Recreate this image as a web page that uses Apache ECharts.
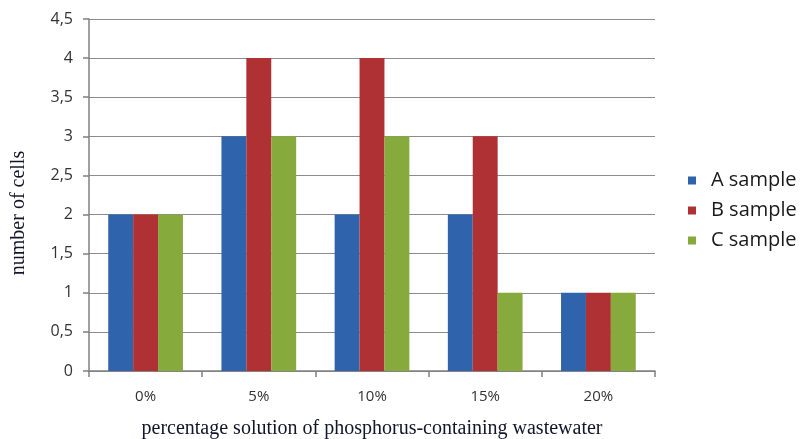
<!DOCTYPE html>
<html><head><meta charset="utf-8">
<script src="https://cdn.jsdelivr.net/npm/echarts@6/dist/echarts.min.js"></script>
<style>html,body{margin:0;padding:0;background:#fff;overflow:hidden}#c{width:802px;height:439px}</style>
</head><body><div id="c"></div>
<script>
const categories = ['0%', '5%', '10%', '15%', '20%'];
const seriesA = [2, 3, 2, 2, 1];
const seriesB = [2, 4, 4, 3, 1];
const seriesC = [2, 3, 3, 1, 1];
const seriesNames = ['A sample', 'B sample', 'C sample'];
const colors = ['#2F63AB', '#B03133', '#86AA3C'];

const chart = echarts.init(document.getElementById('c'), null, {renderer: 'canvas'});
const mk = (name, data, color) => ({
  name, type: 'bar', data, barGap: '0%', barCategoryGap: '34%',
  itemStyle: {color}, emphasis: {disabled: true}
});
chart.setOption({
  animation: false,
  grid: {left: 89, right: 147, top: 19, bottom: 68, containLabel: false, outerBoundsMode: 'none'},
  legend: {
    orient: 'vertical', left: 683, top: 165, itemGap: 9,
    itemWidth: 8, itemHeight: 8, icon: 'rect',
    textStyle: {fontFamily: 'Open Sans, sans-serif', fontSize: 20, lineHeight: 21, color: '#1a1a1a', padding: [0,0,0,10]},
    data: seriesNames
  },
  xAxis: {
    type: 'category', data: categories,
    axisLine: {lineStyle: {color: '#808080', width: 1.5}},
    axisTick: {show: true, length: 6, lineStyle: {color: '#808080', width: 1.5}},
    axisLabel: {fontFamily: 'Open Sans, sans-serif', fontSize: 15, color: '#333', margin: 18},
    name: 'percentage solution of phosphorus-containing wastewater',
    nameLocation: 'middle', nameGap: 48,
    nameTextStyle: {fontFamily: 'Liberation Serif, serif', fontSize: 20, color: '#14142a'}
  },
  yAxis: {
    type: 'value', min: 0, max: 4.5, interval: 0.5,
    axisLine: {show: true, lineStyle: {color: '#808080', width: 1.5}},
    axisTick: {show: true, length: 6, lineStyle: {color: '#808080', width: 1.5}},
    splitLine: {lineStyle: {color: '#8c8c8c', width: 1.2}},
    axisLabel: {fontFamily: 'Open Sans, sans-serif', fontSize: 16, color: '#333', margin: 16,
      formatter: v => String(v).replace('.', ',')},
    name: 'number of cells', nameLocation: 'middle', nameGap: 60, nameRotate: 90,
    nameTextStyle: {fontFamily: 'Liberation Serif, serif', fontSize: 20, color: '#14142a', padding: [0, 36, 0, 0]}
  },
  series: [mk(seriesNames[0], seriesA, colors[0]), mk(seriesNames[1], seriesB, colors[1]), mk(seriesNames[2], seriesC, colors[2])]
});
</script></body></html>
